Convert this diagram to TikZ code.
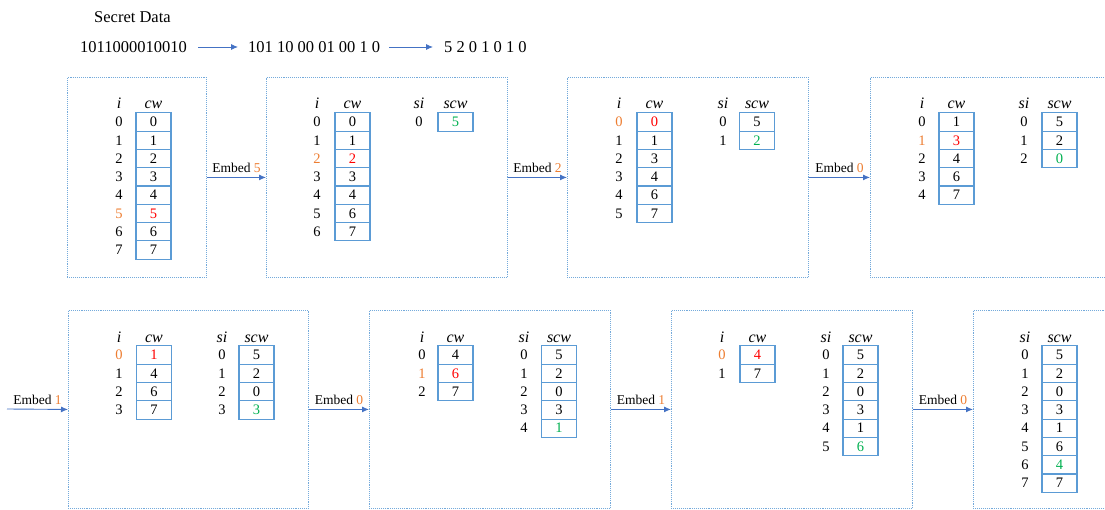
\documentclass[tikz,border=0pt]{standalone}
\usepackage{fontspec}
\setmainfont{Liberation Serif}
\usetikzlibrary{arrows.meta}
\definecolor{cellblue}{RGB}{91,155,213}
\definecolor{arrowblue}{RGB}{68,114,196}
\definecolor{mkorange}{RGB}{237,125,49}
\definecolor{mkred}{RGB}{255,0,0}
\definecolor{mkgreen}{RGB}{0,176,80}
\colorlet{ix-n}{black}\colorlet{ix-s}{mkorange}\colorlet{ix-a}{black}
\colorlet{vl-n}{black}\colorlet{vl-s}{mkred}\colorlet{vl-a}{mkgreen}
\newcommand{\cwtable}[7]{%
  \node[head] (#1hi) at (#4,#6-13) {\textit{#2}};
  \node[head] (#1hc) at (#5,#6-13) {\textit{#3}};
  \foreach \v/\m [count=\k from 0] in {#7} {
    \node[idx, text=ix-\m] (#1i\k) at (#4,#6+\k*18.3) {\k};
    \node[cell, text=vl-\m] (#1c\k) at (#5,#6+\k*18.3) {\v};
  }}

\begin{document}
\begin{tikzpicture}[x=1pt, y=-1pt,
    toptext/.style={inner sep=0pt, anchor=west, font=\fontsize{16.5}{19}\selectfont},
    frame/.style={draw=cellblue!85, densely dotted, line width=0.9pt, anchor=north west, inner sep=0pt, minimum width=241pt, minimum height=200pt},
    cell/.style={draw=cellblue, line width=1.1pt, minimum width=35pt, minimum height=18.3pt, inner sep=0pt, font=\fontsize{14.5}{16}\selectfont},
    idx/.style={inner sep=0pt, font=\fontsize{14.5}{16}\selectfont},
    head/.style={anchor=base, inner sep=0pt, font=\fontsize{16}{18}\selectfont},
    lbl/.style={above=1pt, font=\fontsize{13.5}{16}\selectfont},
    arrow/.style={-{Latex[length=7pt, width=6pt]}, draw=arrowblue, line width=0.9pt}
  ]
  \useasboundingbox (0,0) rectangle (1105,510);
  \node[toptext] (title) at (94,17) {Secret Data};
  \node[toptext] (bits) at (80,47) {1011000010010};
  \node[toptext] (groups) at (248,47) {101 10 00 01 00 1 0};
  \node[toptext] (digits) at (444,47) {5 2 0 1 0 1 0};
  \draw[arrow, shorten <=11pt, shorten >=10pt] (bits) -- (groups);
  \draw[arrow, shorten <=9pt, shorten >=11pt] (groups) -- (digits);

  \node[frame, minimum width=139pt] (b1) at (67,77) {};
  \node[frame] (b2) at (266,77) {};
  \node[frame] (b3) at (567,77) {};
  \node[frame] (b4) at (870,77) {};
  \node[frame, minimum width=240pt, minimum height=198pt] (b5) at (68,310) {};
  \node[frame, minimum height=198pt] (b6) at (369,310) {};
  \node[frame, minimum height=198pt] (b7) at (671,310) {};
  \node[frame, minimum height=198pt] (b8) at (973,310) {};
  \coordinate (in5) at (7,409);

  \cwtable{t1}{i}{cw}{119}{153.5}{122}{0/n,1/n,2/n,3/n,4/n,5/s,6/n,7/n}
  \cwtable{t2}{i}{cw}{317}{352.5}{122}{0/n,1/n,2/s,3/n,4/n,6/n,7/n}
  \cwtable{s2}{si}{scw}{419}{455.5}{122}{5/a}
  \cwtable{t3}{i}{cw}{619}{654.5}{122}{0/s,1/n,3/n,4/n,6/n,7/n}
  \cwtable{s3}{si}{scw}{723}{757}{122}{5/n,2/a}
  \cwtable{t4}{i}{cw}{922}{956.5}{122}{1/n,3/s,4/n,6/n,7/n}
  \cwtable{s4}{si}{scw}{1024}{1059.5}{122}{5/n,2/n,0/a}
  \cwtable{t5}{i}{cw}{119}{154}{355}{1/s,4/n,6/n,7/n}
  \cwtable{s5}{si}{scw}{222}{256.5}{355}{5/n,2/n,0/n,3/a}
  \cwtable{t6}{i}{cw}{422}{455.5}{355}{4/n,6/s,7/n}
  \cwtable{s6}{si}{scw}{524}{559}{355}{5/n,2/n,0/n,3/n,1/a}
  \cwtable{t7}{i}{cw}{722}{757.5}{355}{4/s,7/n}
  \cwtable{s7}{si}{scw}{826}{860.5}{355}{5/n,2/n,0/n,3/n,1/n,6/a}
  \cwtable{s8}{si}{scw}{1025}{1059.5}{355}{5/n,2/n,0/n,3/n,1/n,6/n,4/a,7/n}

  \draw[arrow] (b1.east) -- node[lbl] {Embed \textcolor{mkorange}{5}} (b2.west);
  \draw[arrow] (b2.east) -- node[lbl] {Embed \textcolor{mkorange}{2}} (b3.west);
  \draw[arrow] (b3.east) -- node[lbl] {Embed \textcolor{mkorange}{0}} (b4.west);
  \draw[arrow] (in5) -- node[lbl] {Embed \textcolor{mkorange}{1}} (b5.west);
  \draw[arrow] (b5.east) -- node[lbl] {Embed \textcolor{mkorange}{0}} (b6.west);
  \draw[arrow] (b6.east) -- node[lbl] {Embed \textcolor{mkorange}{1}} (b7.west);
  \draw[arrow] (b7.east) -- node[lbl] {Embed \textcolor{mkorange}{0}} (b8.west);
\end{tikzpicture}
\end{document}
